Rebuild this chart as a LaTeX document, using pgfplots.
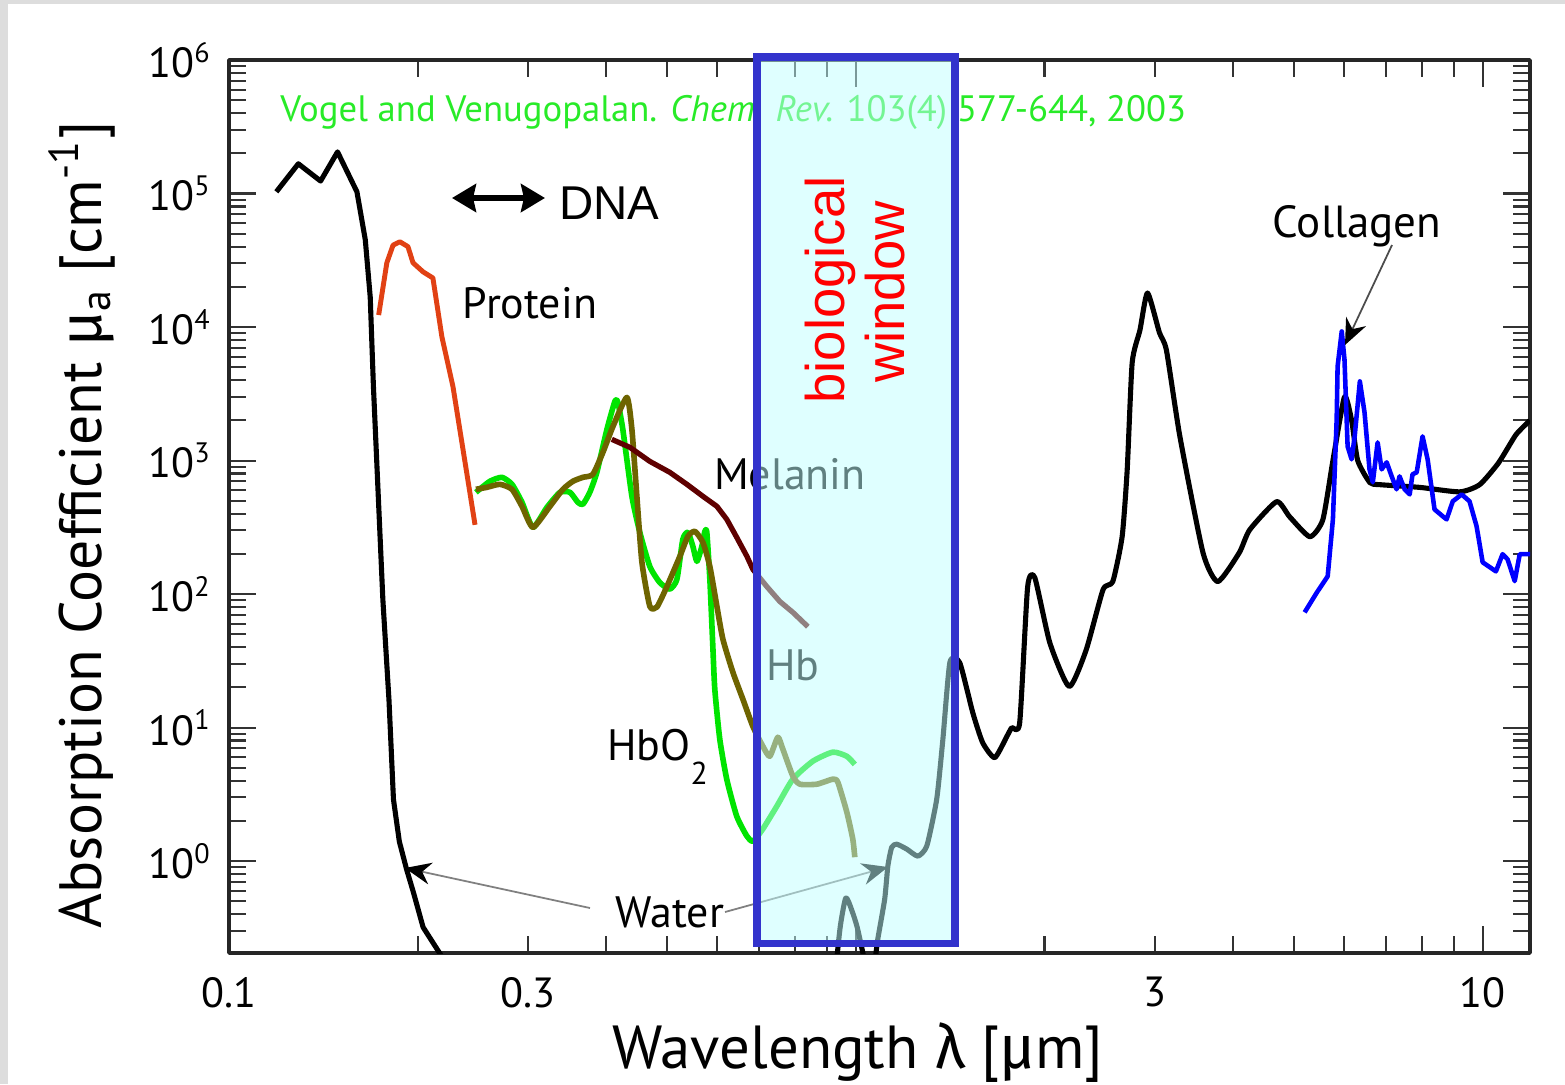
\documentclass[border=0pt]{standalone}
\usepackage{pgfplots}
\pgfplotsset{compat=1.18}
\usetikzlibrary{arrows.meta}
\usepackage{fontspec}
\setmainfont{PT Sans}
\newfontfamily\grk{Fira Sans}
\newfontfamily\arial{Liberation Sans}

\definecolor{framegray}{RGB}{221,221,221}
\definecolor{protein}{RGB}{225,65,20}
\definecolor{hbo}{RGB}{0,228,0}
\definecolor{hb}{RGB}{110,100,0}
\definecolor{melanin}{RGB}{95,0,0}
\definecolor{vogel}{RGB}{40,235,40}
\definecolor{winblue}{RGB}{51,51,204}
\definecolor{winfill}{RGB}{193,255,255}

\begin{document}
\begin{tikzpicture}
% grey frame on the left and top, white page
\fill[framegray] (-2.29,-1.31) rectangle (13.36,9.53);
\fill[white] (-2.21,-1.31) rectangle (13.36,9.49);

\begin{axis}[
    at={(0,0)}, anchor=south west,
    scale only axis, width=13.01cm, height=8.93cm,
    xmode=log, ymode=log, log basis x=10, log basis y=10,
    xmin=0.1, xmax=11.9, ymin=0.205, ymax=1e6,
    xticklabels={,,},
    extra x ticks={0.1,0.3,3,10},
    extra x tick labels={0.1,0.3,3,10},
    extra x tick style={major tick length=0pt, tick style={draw=none}},
    yticklabel={10\textsuperscript{\pgfmathparse{int(round(\tick))}\pgfmathresult}},
    ticklabel style={font=\fontsize{12}{14}\selectfont},
    xticklabel style={yshift=-0.12cm},
    yticklabel style={xshift=-0.05cm},
    major tick length=0.27cm, minor tick length=0.17cm,
    tick style={line width=0.6pt, black!80},
    axis line style={line width=1pt, black!85},
    line join=round,
]
% Water (UV part)
\addplot[black, line width=1.45pt] coordinates {
(0.119,1.03e5) (0.129,1.67e5) (0.140,1.24e5) (0.149,2.05e5) (0.160,1.03e5)
(0.165,4.5e4) (0.168,1.68e4) (0.170,3.6e3) (0.176,91) (0.180,16)
(0.183,2.9) (0.187,1.4) (0.192,0.87) (0.197,0.58) (0.204,0.32) (0.219,0.19)
};
% Protein
\addplot[protein, line width=1.4pt] coordinates {
(0.1733,1.23e4) (0.1786,3.03e4) (0.1827,4.1e4) (0.1874,4.35e4) (0.1930,4.0e4)
(0.1966,3.03e4) (0.2040,2.59e4) (0.2115,2.33e4) (0.2186,8.45e3) (0.2277,3.57e3)
(0.2469,330)
};
% HbO2
\addplot[hbo, line width=1.6pt, smooth, tension=0.35] coordinates {
(0.2477,578) (0.2607,699) (0.2725,749) (0.2828,664) (0.2934,487) (0.3054,316)
(0.3215,446) (0.3373,578) (0.3499,578) (0.3602,487) (0.3669,470) (0.3764,578)
(0.3863,816) (0.4008,1713) (0.4127,2775) (0.4172,2729) (0.4249,1713) (0.4393,540)
(0.4523,290) (0.4692,161) (0.4868,122) (0.5050,109) (0.5183,129) (0.5297,257)
(0.5397,290) (0.5496,228) (0.5578,176) (0.5681,228) (0.5743,295) (0.5785,290)
(0.5850,129) (0.5914,40.7) (0.5957,19.4) (0.6067,8.2) (0.6225,4.1) (0.6457,2.17)
(0.6702,1.54) (0.6852,1.41) (0.7106,1.74) (0.7482,2.58) (0.7936,4.11) (0.8539,5.6)
(0.9190,6.55) (0.9674,6.1) (0.9963,5.3)
};
% Hb
\addplot[hb, line width=1.6pt, smooth, tension=0.35] coordinates {
(0.2477,609) (0.2578,630) (0.2705,664) (0.2828,609) (0.2934,454) (0.3054,316)
(0.3251,454) (0.3410,609) (0.3536,699) (0.3669,749) (0.3806,788) (0.3950,1152)
(0.4098,1803) (0.4313,2972) (0.4393,1713) (0.4474,540) (0.4558,173) (0.4692,81)
(0.4816,80) (0.4996,114) (0.5240,192) (0.5397,271) (0.5537,295) (0.5702,244)
(0.5850,161) (0.6003,81) (0.6137,45.9) (0.6366,26) (0.6605,16.3) (0.6852,10.2)
(0.7106,7.26) (0.7291,6.1) (0.7510,8.47) (0.7649,6.9) (0.7936,4.33) (0.8142,3.77)
(0.8667,3.77) (0.9190,4.11) (0.9361,3.9) (0.9674,2.33) (0.9890,1.46) (0.9963,1.07)
};
% Melanin
\addplot[melanin, line width=1.5pt] coordinates {
(0.4081,1442) (0.4361,1256) (0.4692,986) (0.5050,816) (0.5376,664) (0.5702,540)
(0.6003,454) (0.6225,363) (0.6457,266) (0.6702,192) (0.6852,153) (0.7210,114)
(0.7565,88) (0.7936,73) (0.8385,57)
};
% Water, 0.97 um band
\addplot[black, line width=1.45pt, smooth, tension=0.4] coordinates {
(0.933,0.19) (0.945,0.33) (0.964,0.53) (0.985,0.43) (1.005,0.32) (1.03,0.19)
};
% Water, infrared
\addplot[black, line width=1.45pt, smooth, tension=0.35] coordinates {
(1.075,0.19) (1.084,0.26) (1.112,0.52) (1.125,0.92) (1.141,1.27) (1.162,1.34)
(1.206,1.23) (1.256,1.09) (1.298,1.30) (1.346,2.91) (1.377,8.2) (1.413,30.9)
(1.465,30.6) (1.537,12.9) (1.594,7.7) (1.666,5.96) (1.742,8.6) (1.774,10)
(1.826,10.9) (1.880,113) (1.93,133) (2.04,43) (2.19,20.3) (2.33,38) (2.48,108)
(2.57,124) (2.66,269) (2.71,853) (2.76,5.4e3) (2.84,9.5e3) (2.92,1.8e4)
(3.05,9.1e3) (3.13,6.7e3) (3.29,1.5e3) (3.58,204) (3.78,124) (4.09,204)
(4.25,303) (4.69,492) (4.92,380) (5.30,269) (5.56,361) (5.77,1.0e3) (6.02,3.0e3)
(6.18,2.0e3) (6.32,1.0e3) (6.61,683) (6.85,660) (7.93,630) (9.19,583) (9.89,660)
(10.6,960) (11.3,1.56e3) (11.9,2.0e3)
};
% Collagen
\addplot[blue, line width=1.3pt] coordinates {
(5.20,73) (5.44,103) (5.66,136) (5.77,363) (5.85,2034) (5.87,5070) (5.96,9270)
(6.02,5720) (6.09,1277) (6.18,1021) (6.25,1518) (6.37,3916) (6.48,2295) (6.60,859)
(6.68,687) (6.80,1368) (6.90,859) (7.03,970) (7.16,762) (7.29,609) (7.37,762)
(7.51,609) (7.65,558) (7.73,788) (7.85,816) (8.02,1518) (8.17,1021) (8.38,431)
(8.64,382) (8.76,363) (8.96,495) (9.26,558) (9.53,495) (9.78,322) (10.0,173)
(10.5,148) (10.76,199) (10.96,182) (11.25,125) (11.46,199) (11.9,199)
};
\end{axis}

% labels and arrows below the window overlay
\node[anchor=west, text=vogel, font=\fontsize{10.45}{12}\selectfont] at (0.39,8.41)
  {Vogel and Venugopalan. \textit{Chem. Rev.} 103(4) 577-644, 2003};
\draw[line width=1.7pt, {Stealth[length=0.24cm,width=0.28cm,inset=0.03cm]}-{Stealth[length=0.24cm,width=0.28cm,inset=0.03cm]}]
  (2.23,7.55) -- (3.16,7.55);
\node[anchor=west, font=\arial\fontsize{13.5}{15}\selectfont] at (3.18,7.50) {DNA};
\node[font=\fontsize{12.5}{14}\selectfont] at (3.01,6.50) {Protein};
\node[font=\fontsize{12.5}{14}\selectfont] at (5.61,4.79) {Melanin};
\node[font=\fontsize{12.5}{14}\selectfont] at (5.64,2.88) {Hb};
\node[anchor=base west, font=\fontsize{12.5}{14}\selectfont] at (3.66,1.93)
  {HbO\raisebox{-0.55em}{\fontsize{9}{10}\selectfont 2}};
\node[font=\fontsize{12.5}{14}\selectfont] at (4.41,0.41) {Water};
\node[font=\fontsize{12.8}{14}\selectfont] at (11.28,7.27) {Collagen};
\draw[gray, line width=0.5pt, -{Stealth[length=0.26cm,width=0.22cm,black]}]
  (3.61,0.45) -- (1.76,0.85);
\draw[gray, line width=0.5pt, -{Stealth[length=0.26cm,width=0.22cm,black]}]
  (4.96,0.41) -- (6.59,0.86);
\draw[gray!60!black, line width=0.5pt, -{Stealth[length=0.26cm,width=0.22cm,black]}]
  (11.63,7.08) -- (11.16,6.08);

% biological window
\fill[winfill, fill opacity=0.5] (5.28,0.10) rectangle (7.26,8.96);
\draw[winblue, line width=2pt] (5.28,0.10) rectangle (7.26,8.96);
\node[rotate=90, text=red, font=\arial\fontsize{15.5}{17}\selectfont] at (6.01,6.63) {biological};
\node[rotate=90, text=red, font=\arial\fontsize{15.5}{17}\selectfont] at (6.56,6.61) {window};

% axis titles
\node[rotate=90, font=\fontsize{17}{19}\selectfont] at (-1.47,4.28)
  {Absorption Coefficient {\grk μ}\textsubscript{a} [cm\textsuperscript{-1}]};
\node[font=\fontsize{17.3}{19}\selectfont] at (6.29,-1.00)
  {Wavelength {\grk λ} [{\grk μ}m]};

\pgfresetboundingbox
\path (-2.29,-1.31) rectangle (13.36,9.53);
\end{tikzpicture}
\end{document}
